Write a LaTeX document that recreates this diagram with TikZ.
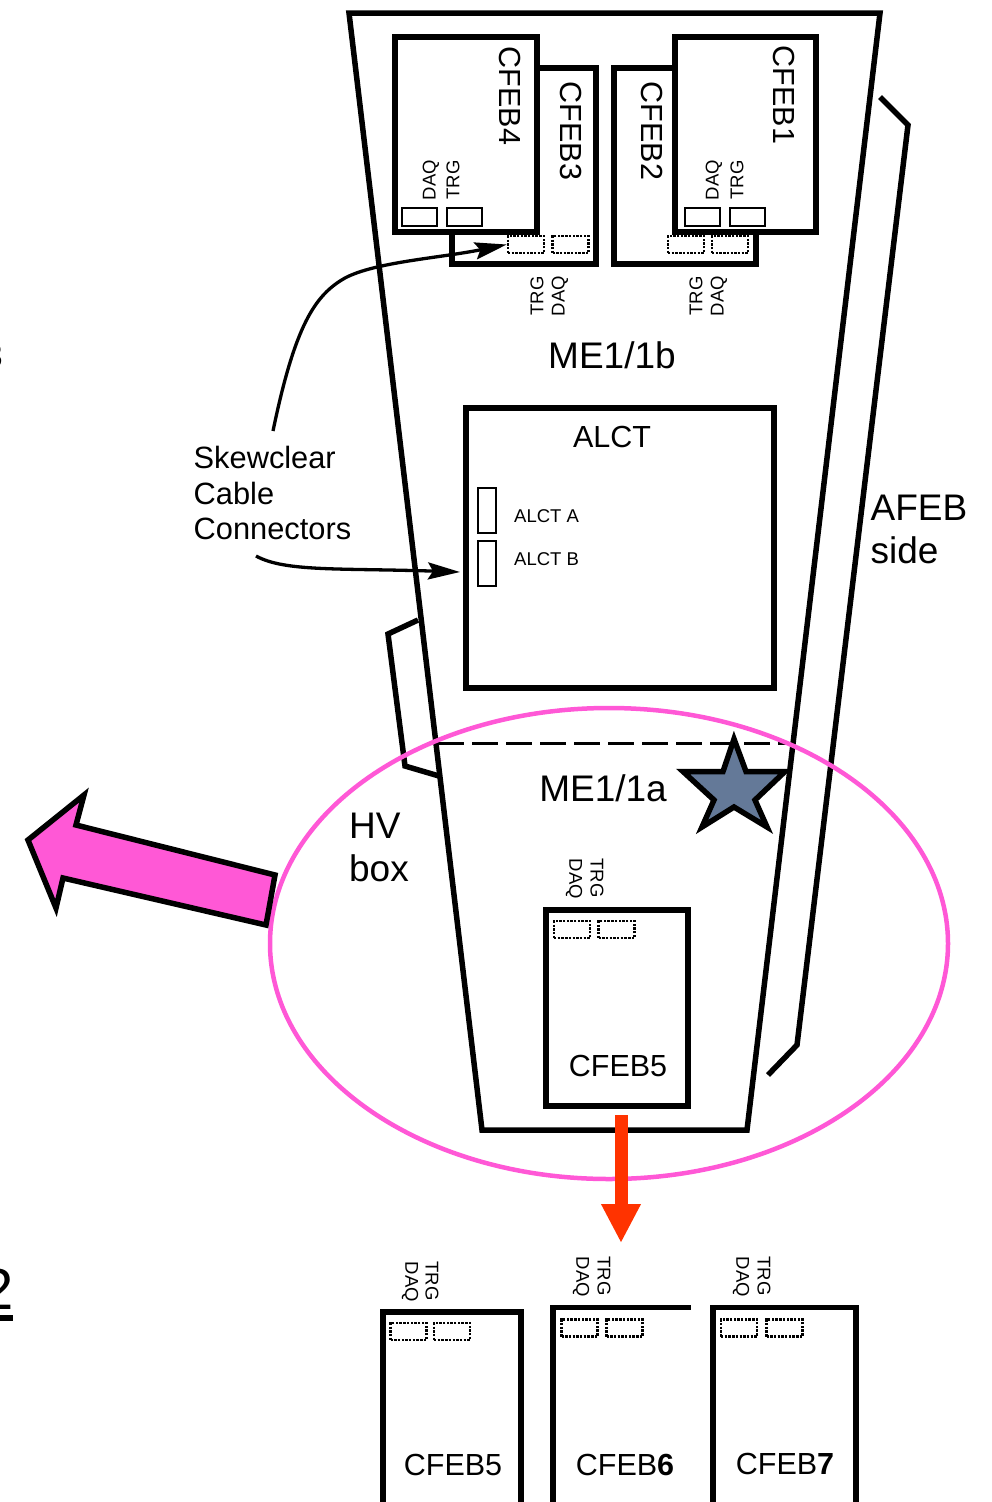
\documentclass[tikz,border=0pt]{standalone}
\usepackage{fontspec}
\setmainfont{Liberation Sans}
\usepackage{xcolor}
\usetikzlibrary{arrows.meta, calc, positioning}

\definecolor{hvpink}{RGB}{255,88,214}
\definecolor{cablered}{RGB}{255,51,0}
\definecolor{starblue}{RGB}{100,121,152}

\tikzset{
  board/.style={draw, fill=white, line width=5.5pt, miter limit=10},
  plug/.style={draw, line width=2.2pt, minimum width=35pt, minimum height=18pt, inner sep=0pt},
  hiddenplug/.style={draw, line width=2.4pt, dash pattern=on 2.4pt off 1.3pt, minimum width=36pt, minimum height=17pt, inner sep=0pt},
  feblabel/.style={font=\fontsize{30.5}{30.5}\selectfont, inner sep=0pt},
  pinlabel/.style={font=\fontsize{18.5}{18.5}\selectfont, inner sep=0pt},
  biglabel/.style={font=\fontsize{37}{43}\selectfont, inner sep=0pt, align=left},
}

\begin{document}
\begin{tikzpicture}[x=1pt, y=-1pt, >=Stealth]
    \path[use as bounding box, clip] (0,0) rectangle (992,1502);

    % --- fragments cut by the left edge ---
    \node[font=\fontsize{34}{34}\selectfont, anchor=east, inner sep=0pt] (cutthree) at (3,356) {3};
    \node[font=\fontsize{58}{58}\selectfont, anchor=east, inner sep=0pt] (cuttwo) at (14,1289) {2};
    \draw[line width=6pt] (0,1318) -- (13,1318);

    % --- chamber outline ---
    \draw[line width=5.5pt] (349,13) -- (880,13) -- (747,1130) -- (482,1130) -- cycle;
    \draw[line width=5.5pt] (880,97) -- (908,125) -- (797,1045) -- (768,1075);
    \draw[line width=5.5pt] (418,620) -- (388,634) -- (405,766) -- (439,776);
    \draw[line width=3pt, dash pattern=on 26pt off 8pt] (438,743) -- (790,743);

    % --- CFEB3 and CFEB4 ---
    \draw[board] (452,68) rectangle (596,264);
    \node[feblabel, rotate=-90] (cfebthreename) at (571,131) {CFEB3};
    \node[hiddenplug] (cfebthreetrg) at (526,244.5) {};
    \node[hiddenplug] (cfebthreedaq) at (570.5,244.5) {};
    \draw[board] (395,37) rectangle (537,232);
    \node[feblabel, rotate=-90] (cfebfourname) at (510,96) {CFEB4};
    \node[plug] (cfebfourdaq) at (419.5,217) {};
    \node[plug] (cfebfourtrg) at (464.5,217) {};
    \node[pinlabel, rotate=90] (cfebfourdaqtext) at (431,180) {DAQ};
    \node[pinlabel, rotate=90] (cfebfourtrgtext) at (453,180) {TRG};
    \node[pinlabel, rotate=90] (cfebthreetrgtext) at (537,296) {TRG};
    \node[pinlabel, rotate=90] (cfebthreedaqtext) at (560,296) {DAQ};

    % --- CFEB2 and CFEB1 ---
    \draw[board] (614,68) rectangle (756,264);
    \node[feblabel, rotate=-90] (cfebtwoname) at (652,131) {CFEB2};
    \node[hiddenplug] (cfebtwotrg) at (686,244.5) {};
    \node[hiddenplug] (cfebtwodaq) at (730,244.5) {};
    \draw[board] (675,37) rectangle (816,232);
    \node[feblabel, rotate=-90] (cfebonename) at (784,95) {CFEB1};
    \node[plug] (cfebonedaq) at (702.5,217) {};
    \node[plug] (cfebonetrg) at (747.5,217) {};
    \node[pinlabel, rotate=90] (cfebonedaqtext) at (714,180) {DAQ};
    \node[pinlabel, rotate=90] (cfebonetrgtext) at (737,180) {TRG};
    \node[pinlabel, rotate=90] (cfebtwotrgtext) at (696,296) {TRG};
    \node[pinlabel, rotate=90] (cfebtwodaqtext) at (719,296) {DAQ};

    \node[biglabel] (meb) at (612,355) {ME1/1b};

    % --- ALCT ---
    \draw[board] (466,408) rectangle (774,688);
    \node[feblabel] (alctname) at (612,437) {ALCT};
    \node[plug, minimum width=18pt, minimum height=45pt] (alctaplug) at (487,510.5) {};
    \node[plug, minimum width=18pt, minimum height=45pt] (alctbplug) at (487,563.5) {};
    \node[pinlabel, anchor=west] (alctatext) at (514,516.5) {ALCT A};
    \node[pinlabel, anchor=west] (alctbtext) at (514,559.5) {ALCT B};

    % --- cable connector note ---
    \node[font=\fontsize{30.8}{35.5}\selectfont, anchor=west, align=left, inner sep=0pt] (skew) at (193.5,493) {Skewclear\\Cable\\Connectors};
    \coordinate (skewtop) at (273,431);
    \coordinate (skewlow) at (256,556);
    \coordinate (alctedge) at (460,572);
    \draw[line width=3.3pt, arrows={-Stealth[length=32pt, width=17pt, inset=5pt]}] (skewtop) .. controls (295,325) and (315,295) .. (345,278) .. controls (375,262) and (440,258) .. (cfebthreetrg.west);
    \draw[line width=3.3pt, arrows={-Stealth[length=32pt, width=17pt, inset=5pt]}] (skewlow) .. controls (285,572) and (340,568) .. (alctedge);

    \node[biglabel] (afeb) at (919,529) {AFEB\\side};
    \node[biglabel] (hvbox) at (379,847) {HV\\box};

    % --- ME1/1a and CFEB5 ---
    \node[biglabel] (mea) at (603,788) {ME1/1a};
    \draw[line width=5.5pt, fill=starblue, miter limit=10] (734,739) -- (746,771.5) -- (785,771.5) -- (755,800) -- (767,827) -- (734,807) -- (702,827) -- (714,800) -- (683,771.5) -- (723,771.5) -- cycle;
    \draw[board] (546,910) rectangle (688,1106);
    \node[hiddenplug] (cfebfivedaq) at (572,929.5) {};
    \node[hiddenplug] (cfebfivetrg) at (616.5,929.5) {};
    \node[pinlabel, rotate=-90] (cfebfivedaqtext) at (574,879) {DAQ};
    \node[pinlabel, rotate=-90] (cfebfivetrgtext) at (597,878) {TRG};
    \node[feblabel] (cfebfivename) at (618,1066) {CFEB5};

    % --- HV ellipse and arrows ---
    \draw[hvpink, line width=4.5pt] (609,943.5) ellipse (339 and 235.5);
    \draw[line width=5.5pt, fill=hvpink, miter limit=10] (28,840) -- (84,795) -- (76,825) -- (275,875) -- (266,925) -- (63,878) -- (56,908) -- cycle;
    \coordinate (redstart) at (621,1115);
    \coordinate (redend) at (621,1243);
    \draw[cablered, line width=13pt, arrows={-Triangle[length=39pt, width=37pt]}] (redstart) -- (redend);

    % --- three lower boards ---
    \draw[line width=5.5pt] (383,1510) -- (383,1312) -- (521,1312) -- (521,1510);
    \node[hiddenplug] (lowfivedaq) at (408.5,1331.5) {};
    \node[hiddenplug] (lowfivetrg) at (452,1331.5) {};
    \node[pinlabel, rotate=-90] (lowfivedaqtext) at (410,1282) {DAQ};
    \node[pinlabel, rotate=-90] (lowfivetrgtext) at (432,1281) {TRG};
    \node[feblabel] (lowfivename) at (453,1465) {CFEB5};

    \draw[line width=5.5pt] (553,1510) -- (553,1307.5) -- (691,1307.5);
    \node[hiddenplug] (lowsixdaq) at (579.5,1328) {};
    \node[hiddenplug] (lowsixtrg) at (624.5,1328) {};
    \node[pinlabel, rotate=-90] (lowsixdaqtext) at (581,1277) {DAQ};
    \node[pinlabel, rotate=-90] (lowsixtrgtext) at (604,1276) {TRG};
    \node[feblabel] (lowsixname) at (625,1465) {CFEB\textbf{6}};

    \draw[line width=5.5pt] (713,1510) -- (713,1307.5) -- (856,1307.5) -- (856,1510);
    \node[hiddenplug] (lowsevendaq) at (739,1328) {};
    \node[hiddenplug] (lowseventrg) at (784.5,1328) {};
    \node[pinlabel, rotate=-90] (lowsevendaqtext) at (741,1277) {DAQ};
    \node[pinlabel, rotate=-90] (lowseventrgtext) at (764,1276) {TRG};
    \node[feblabel] (lowsevenname) at (785,1464) {CFEB\textbf{7}};
\end{tikzpicture}
\end{document}
